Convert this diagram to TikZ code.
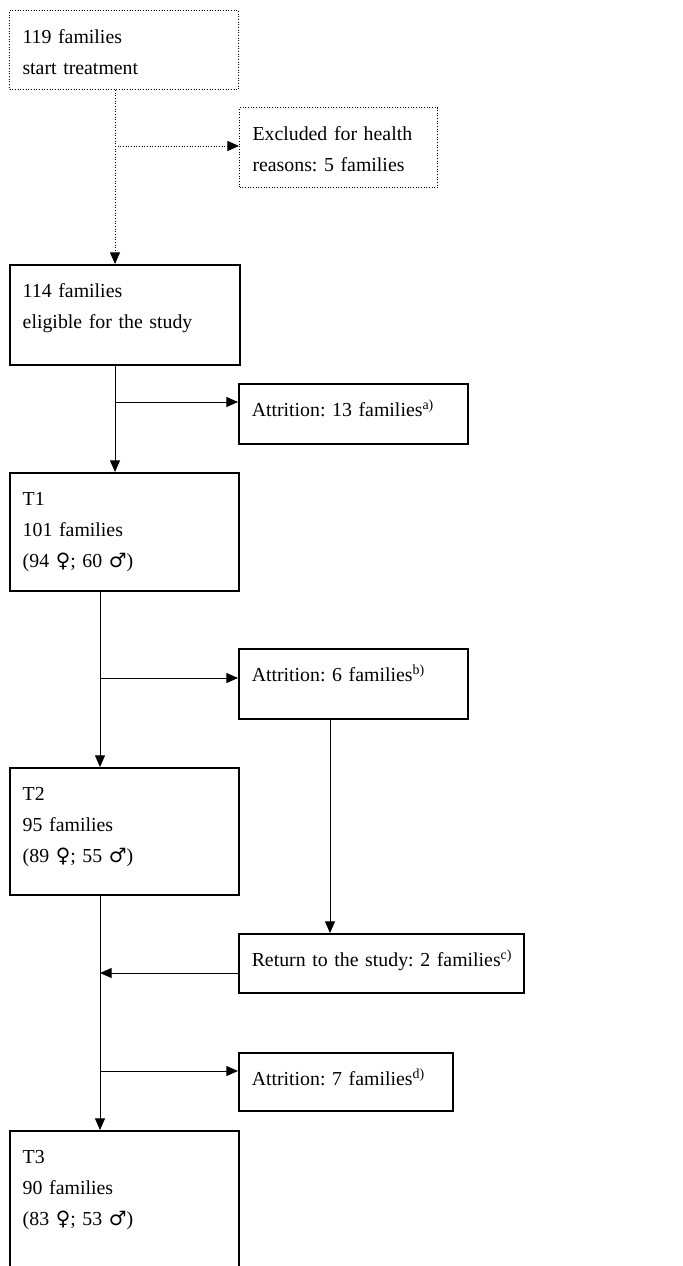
\documentclass[tikz,border=0pt]{standalone}
\usepackage{fontspec}
\setmainfont{Liberation Serif}
\newfontfamily\gendersym{DejaVu Sans}
\usetikzlibrary{arrows.meta}
\newcommand{\fem}{{\gendersym ♀}}
\newcommand{\mal}{{\gendersym ♂}}

\tikzstyle{stage} = [rectangle,
                     draw=black,
                     line width=0.9pt,
                     anchor=north west,
                     text width=121.8pt,
                     inner xsep=7.8pt,
                     inner ysep=0pt,
                     text height=19.8pt,
                     align=left,
                     font=\fontsize{11.9}{18.5}\selectfont\frenchspacing]
\tikzstyle{prestage} = [stage, line width=0.6pt, densely dotted]
\tikzstyle{flow} = [line width=0.6pt, -{Triangle[length=7pt,width=6pt]}]

\begin{document}
\begin{tikzpicture}[x=0.6pt, y=-0.6pt]
\clip (0,0) rectangle (683,1266);
% boxes
\node (start) [prestage, text depth=27.6pt] at (9,10) {119 families\\start treatment};
\node (excl) [prestage, text width=103.2pt, text depth=28.2pt] at (239,107) {Excluded for health\\reasons: 5 families};
\node (elig) [stage, text width=122.4pt, text depth=40.2pt] at (9,264) {114 families\\eligible for the study};
\node (att1) [stage, text depth=16.2pt] at (238,383) {Attrition: 13 families\textsuperscript{a)}};
\node (t1) [stage, text depth=51pt] at (9,472) {T1\\101 families\\(94 \fem; 60 \mal)};
\node (att2) [stage, text depth=22.2pt] at (238,648) {Attrition: 6 families\textsuperscript{b)}};
\node (t2) [stage, text depth=56.4pt] at (9,767) {T2\\95 families\\(89 \fem; 55 \mal)};
\node (ret) [stage, text width=155.4pt, text depth=15.6pt] at (238,933) {\mbox{Return to the study: 2 families\textsuperscript{c)}}};
\node (att3) [stage, text width=112.8pt, text depth=15pt] at (238,1052) {Attrition: 7 families\textsuperscript{d)}};
\node (t3) [stage, text depth=120pt] at (9,1130) {T3\\90 families\\(83 \fem; 53 \mal)};

% spine and branch points
\coordinate (sp1) at (115,0);
\coordinate (sp2) at (100,0);
\coordinate (r1) at (330,0);
\coordinate (b0) at (115,146);
\coordinate (b1) at (115,402);
\coordinate (b2) at (100,678);
\coordinate (b3) at (100,973);
\coordinate (b4) at (100,1071);

% connectors
\draw[flow, densely dotted] (start.south -| sp1) -- (elig.north -| sp1);
\draw[flow, densely dotted] (b0) -- (b0 -| excl.west);
\draw[flow] (elig.south -| sp1) -- (t1.north -| sp1);
\draw[flow] (b1) -- (b1 -| att1.west);
\draw[flow] (t1.south -| sp2) -- (t2.north -| sp2);
\draw[flow] (b2) -- (b2 -| att2.west);
\draw[flow] (att2.south -| r1) -- (ret.north -| r1);
\draw[flow] (t2.south -| sp2) -- (t3.north -| sp2);
\draw[flow] (b3 -| ret.west) -- (b3);
\draw[flow] (b4) -- (b4 -| att3.west);
\end{tikzpicture}
\end{document}
